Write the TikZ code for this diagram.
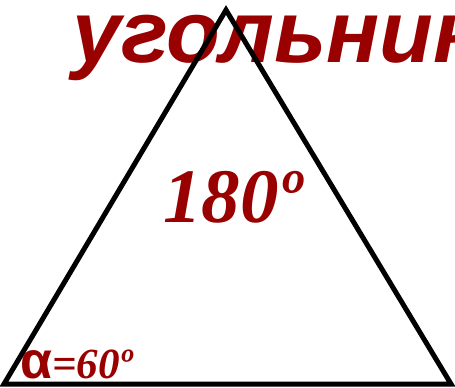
\documentclass[tikz,border=0pt]{standalone}
\usepackage{fontspec}
\setmainfont{Liberation Serif}
\newfontfamily\arialfont{Liberation Sans}
\definecolor{darkred}{RGB}{153,0,0}
\tikzset{word/.style={anchor=base west, inner sep=0pt, text=darkred,
    font=\arialfont\bfseries\itshape\fontsize{88}{88}\selectfont},
  sum/.style={anchor=base west, inner sep=0pt, text=darkred,
    font=\bfseries\itshape\fontsize{77}{77}\selectfont},
  angle/.style={anchor=base west, inner sep=0pt, text=darkred,
    font=\bfseries\itshape\fontsize{43}{43}\selectfont},
  side/.style={draw, line width=5pt}}

\begin{document}
\begin{tikzpicture}[x=1pt, y=-1pt]
  \useasboundingbox (0,0) rectangle (455,388);
  \clip (0,0) rectangle (455,388);

  \node[word] (title) at (72,62) {угольник};

  \coordinate (A) at (4,384);
  \coordinate (B) at (226,10);
  \coordinate (C) at (451,384);
  \draw[side] (A) -- (B) -- (C) -- cycle;

  \node[sum] (total) at (163,222) {180º};
  \node[angle] (alpha) at (20,378) {{\arialfont\bfseries\upshape\fontsize{52}{52}\selectfont α}=60º};
\end{tikzpicture}
\end{document}
